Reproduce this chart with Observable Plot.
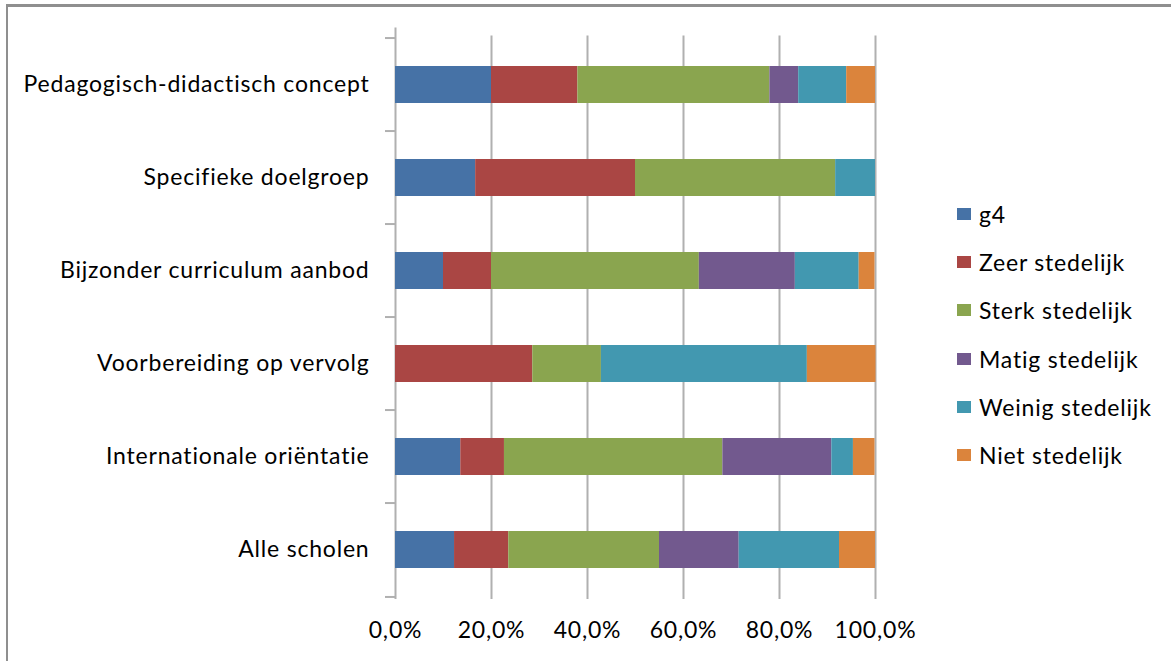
<!DOCTYPE html>
<html>
<head>
<meta charset="utf-8">
<script src="https://cdn.jsdelivr.net/npm/d3@7"></script>
<script src="https://cdn.jsdelivr.net/npm/@observablehq/plot@0.6"></script>
<style>
  html, body { margin: 0; padding: 0; background: #fff; width: 1171px; height: 661px; overflow: hidden; }
  #wrap { position: relative; width: 1171px; height: 661px; overflow: hidden; }
  #frame { position: absolute; left: 6px; top: 4px; width: 1300px; height: 800px; border-top: 3px solid #8f8f8f; border-left: 2.5px solid #8f8f8f; box-sizing: border-box; }
  #chart { position: absolute; left: 0; top: 0; }
  #legend { position: absolute; left: 957px; top: 190px; font-family: Lato, sans-serif; font-size: 23px; letter-spacing: 0.8px; color: #000; }
  .item { display: flex; align-items: center; height: 48.2px; }
  .sw { width: 14px; height: 12px; margin-right: 8px; }
</style>
</head>
<body>
<div id="wrap">
  <div id="frame"></div>
  <div id="chart"></div>
  <div id="legend"></div>
</div>
<script>
const categories = [
  "Pedagogisch-didactisch concept",
  "Specifieke doelgroep",
  "Bijzonder curriculum aanbod",
  "Voorbereiding op vervolg",
  "Internationale oriëntatie",
  "Alle scholen"
];
const series = ["g4", "Zeer stedelijk", "Sterk stedelijk", "Matig stedelijk", "Weinig stedelijk", "Niet stedelijk"];
const colors = ["#4672a6", "#aa4644", "#8aa54f", "#72598e", "#4298b0", "#db843c"];

// percentages per series, in the order of categories
const g4 =             [20.0, 16.7, 10.0,  0.0, 13.6, 12.3];
const zeerStedelijk =  [18.0, 33.3, 10.0, 28.6,  9.1, 11.3];
const sterkStedelijk = [40.0, 41.7, 43.3, 14.3, 45.5, 31.4];
const matigStedelijk = [ 6.0,  0.0, 20.0,  0.0, 22.7, 16.6];
const weinigStedelijk= [10.0,  8.3, 13.3, 42.9,  4.5, 20.9];
const nietStedelijk =  [ 6.0,  0.0,  3.3, 14.3,  4.5,  7.5];

const xTicks = [0, 20, 40, 60, 80, 100];

const seriesValues = [g4, zeerStedelijk, sterkStedelijk, matigStedelijk, weinigStedelijk, nietStedelijk];
const data = [];
series.forEach((s, si) => {
  categories.forEach((c, ci) => {
    data.push({category: c, series: s, value: seriesValues[si][ci]});
  });
});

const W = 1171, H = 661;
const mTop = 35.5, mBottom = 62, mLeft = 395, mRight = 296;
const step = (H - mTop - mBottom) / categories.length;
const gridColor = "#b0b0b0";

const chart = Plot.plot({
  width: W,
  height: H,
  marginTop: mTop,
  marginBottom: mBottom,
  marginLeft: mLeft,
  marginRight: mRight,
  style: {fontFamily: "Lato, sans-serif", fontSize: "23px", letterSpacing: "0.8px", color: "#000", background: "transparent", overflow: "visible"},
  x: {domain: [0, 100], label: null},
  y: {domain: categories, paddingInner: 0.6, paddingOuter: 0.3, label: null},
  color: {domain: series, range: colors},
  marks: [
    Plot.ruleX(xTicks.slice(1), {x: d => d, stroke: gridColor, strokeWidth: 2}),
    Plot.ruleX([0], {x: d => d, insetTop: -8, stroke: gridColor, strokeWidth: 2}),
    Plot.ruleY(categories, {y: d => d, x1: 0, x2: 0, insetLeft: -10, dy: -step / 2, stroke: gridColor, strokeWidth: 2}),
    Plot.ruleY([categories[categories.length - 1]], {y: d => d, x1: 0, x2: 0, insetLeft: -10, dy: step / 2, stroke: gridColor, strokeWidth: 2}),
    Plot.barX(data, Plot.stackX({x: "value", y: "category", fill: "series", order: series})),
    Plot.axisX({ticks: xTicks, tickFormat: d => d.toFixed(1).replace(".", ",") + "%", tickSize: 0, tickPadding: 22, anchor: "bottom"}),
    Plot.axisY({tickSize: 0, tickPadding: 26, anchor: "left"})
  ]
});
document.getElementById("chart").appendChild(chart);

const legend = document.getElementById("legend");
series.forEach((s, i) => {
  const item = document.createElement("div");
  item.className = "item";
  const sw = document.createElement("div");
  sw.className = "sw";
  sw.style.background = colors[i];
  const label = document.createElement("span");
  label.textContent = s;
  item.appendChild(sw);
  item.appendChild(label);
  legend.appendChild(item);
});
</script>
</body>
</html>
